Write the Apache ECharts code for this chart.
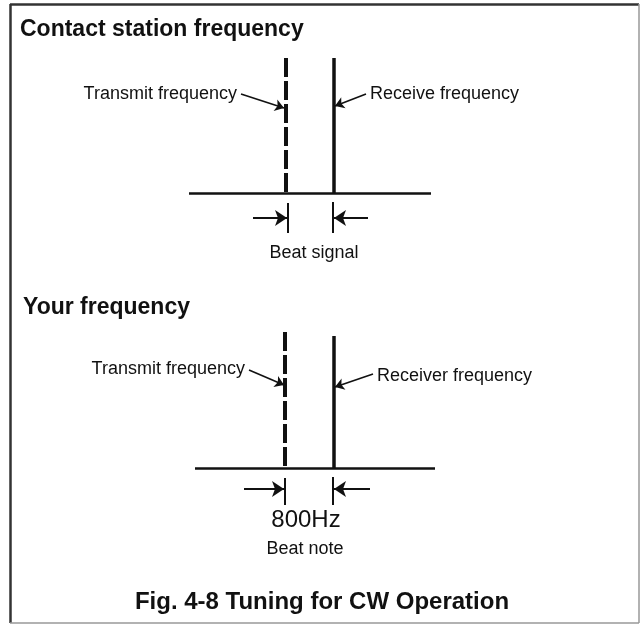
<!DOCTYPE html>
<html>
<head>
<meta charset="utf-8">
<script src="https://cdn.jsdelivr.net/npm/echarts@6/dist/echarts.min.js"></script>
<style>
  html, body { margin: 0; padding: 0; background: #fff; }
  #chart { width: 641px; height: 630px; }
</style>
</head>
<body>
<div id="chart"></div>
<script>
// texts
const panelTitles = ['Contact station frequency', 'Your frequency'];
const transmitLabels = ['Transmit frequency', 'Transmit frequency'];
const receiveLabels = ['Receive frequency', 'Receiver frequency'];
const beatLabels = ['Beat signal', 'Beat note'];
const beatValue = '800Hz';
const caption = 'Fig. 4-8 Tuning for CW Operation';

// sketch coordinates (x across, y down)
const transmitLines = [[[286, 58], [286, 193]], [[285, 332], [285, 468]]];
const receiveLines = [[[334, 58], [334, 193]], [[334, 336], [334, 468]]];
const baseLines = [[[189, 193], [431, 193]], [[195, 468], [435, 468]]];
const gapTicks = [[[288, 203], [288, 233]], [[333, 202], [333, 233]], [[285, 478], [285, 505]], [[333, 477], [333, 505]]];
const gapArrows = [[[253, 218], [287, 218]], [[368, 218], [334, 218]], [[244, 489], [284, 489]], [[370, 489], [334, 489]]];
const leaders = [[[241, 94], [284, 108]], [[366, 94], [335, 106]], [[249, 370], [284, 385]], [[373, 374], [335, 387]]];
const frame = [[[10, 4], [639, 4]], [[10, 4], [10, 623]], [[639, 4], [639, 623]], [[10, 623], [639, 623]]];

const titlePos = [[20, 30], [23, 308]];
const transmitPos = [[237, 94], [245, 369]];
const receivePos = [[370, 94], [377, 376]];
const beatPos = [[314, 253], [305, 549]];
const beatValuePos = [306, 520];
const captionPos = [322, 602];

const ink = '#111';
const font = "'Liberation Sans', Arial, sans-serif";

function segs(list) {
  return list.map(function (s) { return { coords: s }; });
}

function textSeries(points, names, opts) {
  return {
    type: 'scatter',
    symbolSize: 0,
    silent: true,
    itemStyle: { opacity: 1 },
    data: points.map(function (p, i) { return { value: p, name: names[i] }; }),
    label: Object.assign({
      show: true,
      position: 'inside',
      formatter: '{b}',
      color: ink,
      opacity: 1,
      fontFamily: font,
      fontSize: 18,
      verticalAlign: 'middle'
    }, opts)
  };
}

function lineSeries(list, style, extra) {
  return Object.assign({
    type: 'lines',
    coordinateSystem: 'cartesian2d',
    silent: true,
    symbol: 'none',
    lineStyle: Object.assign({ color: ink, opacity: 1, curveness: 0 }, style),
    data: segs(list)
  }, extra || {});
}

// dashed transmit carriers drawn as plain line series
const dashedSeries = transmitLines.map(function (seg) {
  return {
    type: 'line',
    silent: true,
    symbol: 'none',
    data: seg,
    lineStyle: { color: ink, width: 4, type: [19, 4], cap: 'butt' }
  };
});

const chart = echarts.init(document.getElementById('chart'));
chart.setOption({
  animation: false,
  grid: { left: 0, right: 0, top: 0, bottom: 0 },
  xAxis: { type: 'value', min: 0, max: 641, show: false },
  yAxis: { type: 'value', min: 0, max: 630, inverse: true, show: false },
  series: [
    lineSeries(frame.slice(0, 2), { width: 2.5, color: '#333' }),
    lineSeries(frame.slice(2), { width: 1.5, color: '#999' }),
    lineSeries(receiveLines, { width: 3.5 }),
    lineSeries(baseLines, { width: 2.5 }),
    lineSeries(gapTicks, { width: 2 }),
    lineSeries(gapArrows, { width: 2 }, { symbol: ['none', 'arrow'], symbolSize: [0, 12] }),
    lineSeries(leaders, { width: 1.6 }, { symbol: ['none', 'arrow'], symbolSize: [0, 9] }),
    textSeries(titlePos, panelTitles, { align: 'left', fontSize: 23, fontWeight: 'bold' }),
    textSeries(transmitPos, transmitLabels, { align: 'right' }),
    textSeries(receivePos, receiveLabels, { align: 'left' }),
    textSeries(beatPos, beatLabels, { align: 'center' }),
    textSeries([beatValuePos], [beatValue], { align: 'center', fontSize: 24 }),
    textSeries([captionPos], [caption], { align: 'center', fontSize: 24, fontWeight: 'bold' })
  ].concat(dashedSeries)
});
</script>
</body>
</html>
